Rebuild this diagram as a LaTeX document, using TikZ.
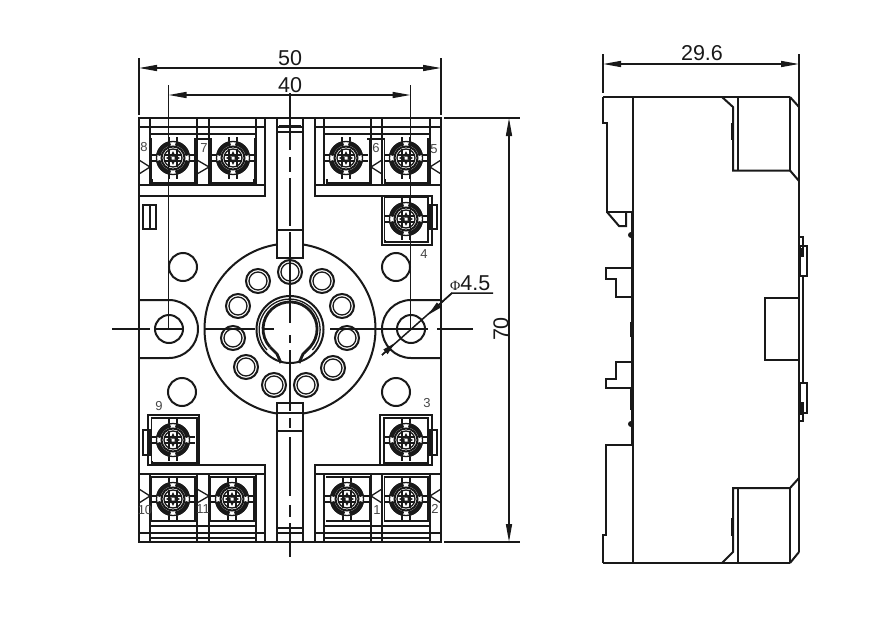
\documentclass[tikz,border=0pt]{standalone}
\usepackage{fontspec}
\setmainfont{Liberation Sans}
\newfontfamily\phifont{Liberation Serif}
\usetikzlibrary{arrows.meta}

% one screw terminal, centred on #1,#2
\newcommand{\screwhead}[2]{
	\begin{scope}[shift={(#1,#2)}]
		\fill[white] (-21,-21) rectangle (21,21);
		\draw[part] (-22,-3) -- (22,-3) (-22,3) -- (22,3) (-4,-21) -- (-4,21) (4,-21) -- (4,21);
		\fill[white] (0,0) circle (17);
		\foreach \ang in {0,90,180,270}
			\draw[line width=4.5pt,draw=ink] (\ang+10:15) arc[start angle=\ang+10,end angle=\ang+80,radius=15];
		\draw[thinpart] (0,0) circle (16.5);
		\draw[part] (0,0) circle (11.5);
		\draw[thinpart] (0,0) circle (9);
		\draw[part] (-9,-3) -- (9,-3) (-9,3) -- (9,3) (-4,-9) -- (-4,9) (4,-9) -- (4,9);
		\fill[ink] (-7,0) -- (-1.5,-3) -- (-1.5,3) -- cycle (7,0) -- (1.5,-3) -- (1.5,3) -- cycle (0,-7) -- (-2.5,-1.5) -- (2.5,-1.5) -- cycle (0,7) -- (-2.5,1.5) -- (2.5,1.5) -- cycle;
	\end{scope}
}

\begin{document}
\begin{tikzpicture}
	[x=1pt,y=-1pt,line cap=butt,line join=miter,
	%Styles
	part/.style={draw=ink,line width=2pt},
	thinpart/.style={draw=ink,line width=1.3pt},
	heavypart/.style={draw=ink,line width=2.8pt},
	centreline/.style={draw=ink,line width=1.7pt},
	dimline/.style={draw=ink,line width=1.5pt},
	dimarrow/.style={dimline,{Stealth[length=18pt,width=6pt,inset=0pt]}-{Stealth[length=18pt,width=6pt,inset=0pt]}},
	dimtext/.style={inner sep=0pt,text=ink,font=\fontsize{21.5}{21.5}\selectfont},
	pinlabel/.style={inner sep=0pt,text=ink!80,font=\fontsize{13}{13}\selectfont}
	]

	%Colors
	\colorlet{ink}{black!90}

	\useasboundingbox (0,0) rectangle (889,621);
	\fill[white] (0,0) rectangle (889,621);

	%The front view
	\draw[part] (290,329) circle (85.5);
	\fill[white] (277,118) rectangle (303,258) (277,403) rectangle (303,542);

	\draw[part] (139,118) rectangle (441,542);
	\draw[part] (139,300) -- (169,300) arc[start angle=-90,end angle=90,radius=29] -- (139,358);
	\draw[part] (441,300) -- (411,300) arc[start angle=270,end angle=90,radius=29] -- (441,358);
	\draw[part] (143,205) rectangle (156,229) (149.5,205) -- (149.5,229);

	\foreach \hx/\hy in {169/329,411/329,183/267,396/267,182/392,396/392}
		\draw[part] (\hx,\hy) circle (14);

	%top and bottom strips of the base
	\draw[heavypart] (139,118) -- (441,118);
	\draw[part] (139,127) -- (265,127) (315,127) -- (441,127) (277,127) -- (303,127);
	\draw[part] (139,533) -- (265,533) (315,533) -- (441,533) (277,533) -- (303,533);
	\draw[heavypart] (139,542) -- (441,542);
	\foreach \vx in {150,197,209,256,265,315,324,371,382,430}
		\draw[part] (\vx,118) -- (\vx,185) (\vx,474) -- (\vx,542);
	\draw[part] (139,195.5) -- (265,195.5) -- (265,185) (315,185) -- (315,195.5) -- (382,195.5);
	\draw[part] (139,185) -- (265,185) (315,185) -- (441,185);
	\draw[part] (199,465) -- (265,465) -- (265,474) (315,474) -- (315,465) -- (380,465);
	\draw[part] (139,474) -- (265,474) (315,474) -- (441,474);
	\draw[heavypart] (150,134) -- (256,134) (324,134) -- (430,134);
	\draw[heavypart] (150,526) -- (256,526) (324,526) -- (430,526);
	\draw[part] (150,139) -- (256,139) (324,139) -- (430,139) (150,538) -- (256,538) (324,538) -- (430,538);

	%marks beside the pin numbers
	\draw[thinpart] (139,160) -- (150,167) -- (139,174) (197,160) -- (209,167) -- (197,174);
	\draw[thinpart] (382,160) -- (371,167) -- (382,174) (441,160) -- (430,167) -- (441,174);
	\draw[thinpart] (139,489) -- (150,496) -- (139,503) (197,489) -- (209,496) -- (197,503);
	\draw[thinpart] (382,489) -- (371,496) -- (382,503) (441,489) -- (430,496) -- (441,503);

	%terminal boxes
	\foreach \bx/\by in {152/139,211/139,327/139,385/139,152/477,211/477,327/477,385/477}
		\draw[part] (\bx,\by) rectangle ++(43,44);
	\draw[part] (382,195.5) rectangle (432,245) (385,198) rectangle (428,242) (430,205) rectangle (437,229);
	\draw[part] (380,415) rectangle (432,465) (384,418) rectangle (428,463) (430,430) rectangle (437,455);
	\draw[part] (148,415) rectangle (199,465) (152,418) rectangle (197,463) (143,430) rectangle (150,455);

	\foreach \sx/\sy in {173/158,233/158,346/158,406/158,406/219,173/440,406/440,173/499,232/499,347/499,406/499}
		{\screwhead{\sx}{\sy}}

	%slots on the vertical axis
	\draw[part] (277,118) -- (277,258) -- (303,258) -- (303,118) (277,230) -- (303,230) (277,132) -- (303,132);
	\draw[heavypart] (279,126) -- (301,126);
	\draw[part] (277,542) -- (277,403) -- (303,403) -- (303,542) (277,413) -- (303,413) (277,528) -- (303,528);
	\draw[heavypart] (277,431) -- (303,431);

	%socket
	\foreach \px/\py in {290/272,258/281,322/281,238/306,342/306,233/338,347/338,246/367,333/368,274/385,306/385}{
		\draw[part] (\px,\py) circle (12);
		\draw[thinpart] (\px,\py) circle (9);
	}
	\draw[part] (290,329.5) circle (33.5);
	\draw[heavypart] (270,347) arc[start angle=138,end angle=402,radius=27] -- (303,354) -- (299,363);
	\draw[heavypart] (270,347) -- (277,354) -- (281,363);
	\draw[thinpart] (267,350) arc[start angle=138,end angle=402,radius=30.5];

	%centre lines
	\draw[centreline] (290,93) -- (290,150) (290,157) -- (290,172) (290,178) -- (290,226) (290,232) -- (290,323) (290,335) -- (290,343) (290,350) -- (290,411) (290,418) -- (290,428) (290,437) -- (290,496) (290,505) -- (290,517) (290,523) -- (290,557);
	\draw[centreline] (112,329) -- (150,329) (156,329) -- (183,329) (205,329) -- (255,329) (262,329) -- (274,329) (330,329) -- (428,329) (437,329) -- (473,329);
	\draw[centreline] (168.5,85) -- (168.5,329) (410.5,85) -- (410.5,329);

	%dimensions
	\draw[dimline] (139,58) -- (139,115) (441,58) -- (441,115);
	\draw[dimarrow] (139,68) -- (441,68);
	\draw[dimarrow] (168.5,95) -- (410.5,95);
	\draw[dimline] (444,118) -- (520,118) (444,542) -- (520,542);
	\draw[dimarrow] (509,118) -- (509,542);
	\node[dimtext] (width50) at (290,58) {50};
	\node[dimtext] (pitch40) at (290,85) {40};
	\node[dimtext,rotate=90] (height70) at (501,329) {70};

	\draw[dimline] (493,293) -- (452,293) -- (382,355);
	\draw[dimline,-{Stealth[length=15pt,width=6pt,inset=0pt]}] (452,293) -- (428,315);
	\draw[dimline,-{Stealth[length=13pt,width=6pt,inset=0pt]}] (382,355) -- (395,343);
	\node[dimtext,anchor=south west] (hole) at (450,291) {{\phifont\fontsize{14}{14}\selectfont Φ}4.5};

	%pin numbers
	\foreach \lx/\ly/\ltxt in {144/147/8,204/148/7,376/148/6,434/149/5,424/254/4,159/406/9,427/403/3,145/510/10,203/509/11,377/510/1,435/509/2}
		\node[pinlabel] (pin\ltxt) at (\lx,\ly) {\ltxt};

	%The side view
	\draw[part] (603,97) -- (790,97) (603,563) -- (790,563);
	\draw[part] (603,97) -- (603,123) -- (607,123) -- (607,212) -- (632,212);
	\draw[part] (607,212) -- (619,226) -- (626,226) -- (626,212);
	\draw[part] (632.5,97) -- (632.5,212) (632.5,445) -- (632.5,563);
	\draw[heavypart] (632.5,212) -- (632.5,445);
	\fill[ink] (631,235) circle (3) (631,424) circle (3);
	\draw[heavypart] (631,322) -- (631,337) (631,388) -- (631,410);
	\draw[part] (632,268) -- (606,268) -- (606,279) -- (616,279) -- (616,297) -- (632,297);
	\draw[part] (632,362) -- (616,362) -- (616,379) -- (606,379) -- (606,388) -- (632,388);
	\draw[part] (632,445) -- (606,445) -- (606,535) -- (603,535) -- (603,563);
	\draw[heavypart] (620,445) -- (632,445);

	\draw[part] (722,97) -- (733,107) -- (733,170.5) -- (790,170.5);
	\draw[part] (722,563) -- (733,552) -- (733,488) -- (790,488);
	\draw[part] (738,97) -- (738,170.5) (790,97) -- (790,170.5) (738,488) -- (738,563) (790,488) -- (790,563);
	\draw[part] (790,97) -- (799,107) (790,170.5) -- (799,181) (790,488) -- (799,478) (790,563) -- (799,552);
	\draw[heavypart] (732.5,123) -- (732.5,140) (732.5,518) -- (732.5,536);

	\draw[part] (799,97) -- (799,552);
	\draw[part] (802.5,276) -- (802.5,383);
	\draw[part] (800,246) rectangle (807,276) (800,383) rectangle (807,413);
	\draw[part] (799,237) -- (803,237) -- (803,257) (799,421) -- (803,421) -- (803,402);
	\draw[heavypart] (801,248) -- (801,257) (801,402) -- (801,415);
	\draw[part] (799,298) -- (765,298) -- (765,360) -- (799,360);

	\draw[dimline] (603,54) -- (603,93) (799,54) -- (799,97);
	\draw[dimarrow] (603,64) -- (799,64);
	\node[dimtext] (depth) at (702,53) {29.6};
\end{tikzpicture}
\end{document}
